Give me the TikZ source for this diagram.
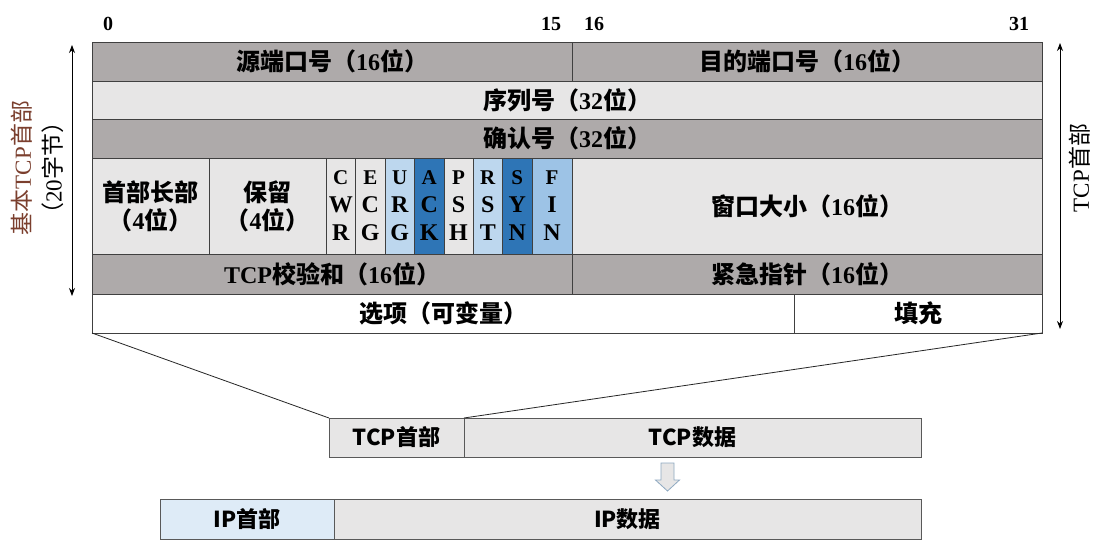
\documentclass[tikz,border=0pt]{standalone}
\usepackage{fontspec}
\setmainfont{Liberation Serif}
\newfontfamily\cjk{Noto Sans CJK SC}
\usetikzlibrary{arrows.meta}
\definecolor{darkrow}{HTML}{AEAAAA}
\definecolor{lightrow}{HTML}{E7E6E6}
\definecolor{lblue}{HTML}{BDD7EE}
\definecolor{dblue}{HTML}{2E75B6}
\definecolor{mblue}{HTML}{9DC3E6}
\definecolor{ipblue}{HTML}{DEEBF7}
\definecolor{lineg}{HTML}{404040}
\definecolor{boxg}{HTML}{595959}
\definecolor{sidered}{HTML}{7B3F2E}
\definecolor{arrowedge}{HTML}{8EA9C1}
\newcommand\zh[1]{{\cjk #1}}
\newcommand\cellnode[7]{\node[cellbox, fill=#6, minimum width={(#4-#2)*1pt}, minimum height={(#5-#3)*1pt}] (#1) at ({(#2+#4)/2},{(#3+#5)/2}) {#7};}
\newcommand\boxnode[7]{\node[lowbox, fill=#6, minimum width={(#4-#2)*1pt}, minimum height={(#5-#3)*1pt}] (#1) at ({(#2+#4)/2},{(#3+#5)/2}) {#7};}
\newcommand\flagtext[3]{\fontsize{21}{29}\selectfont #1\\#2\\#3}
\tikzset{
  cellbox/.style={draw=lineg, line width=1pt, inner sep=0pt, outer sep=0pt, align=center, font=\bfseries\fontsize{24}{28}\selectfont},
  lowbox/.style={draw=boxg, line width=1pt, inner sep=0pt, outer sep=0pt, align=center, font=\cjk\bfseries\fontsize{22}{26}\selectfont},
  bitlab/.style={font=\bfseries\fontsize{20}{24}\selectfont, inner sep=0pt},
  sidelab/.style={font=\fontsize{23}{28}\selectfont, inner sep=0pt, rotate=90},
  span/.style={line width=0.8pt, {Stealth[length=8pt,width=6pt]}-{Stealth[length=8pt,width=6pt]}},
  zoomline/.style={line width=0.8pt, draw=black!85},
}
\begin{document}
\begin{tikzpicture}[x=1pt,y=-1pt]
\useasboundingbox[fill=white] (0,0) rectangle (1109,549);
% bit labels
\node[bitlab] (b0) at (108,24) {0};
\node[bitlab] (b15) at (551,24) {15};
\node[bitlab] (b16) at (594,24) {16};
\node[bitlab] (b31) at (1019,24) {31};
% rows
\cellnode{src}{92}{42}{572}{81}{darkrow}{\zh{源端口号（}16\zh{位）}}
\cellnode{dst}{572}{42}{1042}{81}{darkrow}{\zh{目的端口号（}16\zh{位）}}
\cellnode{seq}{92}{81}{1042}{119}{lightrow}{\zh{序列号（}32\zh{位）}}
\cellnode{ackn}{92}{119}{1042}{158}{darkrow}{\zh{确认号（}32\zh{位）}}
\cellnode{hlen}{92}{158}{209}{254}{lightrow}{\zh{首部长部}\\\zh{（}4\zh{位）}}
\cellnode{rsv}{209}{158}{326}{254}{lightrow}{\zh{保留}\\\zh{（}4\zh{位）}}
\cellnode{cwr}{326}{158}{355.5}{254}{lightrow}{\flagtext{C}{W}{R}}
\cellnode{ece}{355.5}{158}{385}{254}{lightrow}{\flagtext{E}{C}{G}}
\cellnode{urgf}{385}{158}{414.5}{254}{lblue}{\flagtext{U}{R}{G}}
\cellnode{ackf}{414.5}{158}{444}{254}{dblue}{\flagtext{A}{C}{K}}
\cellnode{psh}{444}{158}{473}{254}{lightrow}{\flagtext{P}{S}{H}}
\cellnode{rst}{473}{158}{502.5}{254}{lblue}{\flagtext{R}{S}{T}}
\cellnode{syn}{502.5}{158}{532}{254}{dblue}{\flagtext{S}{Y}{N}}
\cellnode{fin}{532}{158}{572}{254}{mblue}{\flagtext{F}{I}{N}}
\cellnode{win}{572}{158}{1042}{254}{lightrow}{\zh{窗口大小（}16\zh{位）}}
\cellnode{cks}{92}{254}{572}{294}{darkrow}{TCP\zh{校验和（}16\zh{位）}}
\cellnode{urgp}{572}{254}{1042}{294}{darkrow}{\zh{紧急指针（}16\zh{位）}}
\cellnode{opt}{92}{294}{794}{333}{white}{\zh{选项（可变量）}}
\cellnode{pad}{794}{294}{1042}{333}{white}{\zh{填充}}
% side labels and spans
\node[sidelab, text=sidered] (ll1) at (22,168) {\zh{基本}TCP\zh{首部}};
\node[sidelab] (ll2) at (53,168) {\zh{（}20\zh{字节）}};
\coordinate (la1) at (72,45);
\coordinate (la2) at (72,296);
\draw[span] (la1) -- (la2);
\node[sidelab] (rl) at (1080,168) {TCP\zh{首部}};
\coordinate (ra1) at (1060,43);
\coordinate (ra2) at (1060,329);
\draw[span] (ra1) -- (ra2);
% lower boxes
\boxnode{tcph}{329}{418}{464}{457}{lightrow}{TCP首部}
\boxnode{tcpd}{464}{418}{921}{457}{lightrow}{TCP数据}
\boxnode{iph}{160}{499}{334}{539}{ipblue}{IP首部}
\boxnode{ipd}{334}{499}{921}{539}{lightrow}{IP数据}
% zoom lines
\draw[zoomline] (opt.south west) -- (tcph.north west);
\draw[zoomline] (pad.south east) -- (tcph.north east);
% hollow arrow
\draw[draw=arrowedge, fill=lightrow, line width=0.8pt, line join=miter] (661,463) -- (674,463) -- (674,480) -- (679.5,480) -- (667.5,491) -- (655.5,480) -- (661,480) -- cycle;
\end{tikzpicture}
\end{document}
